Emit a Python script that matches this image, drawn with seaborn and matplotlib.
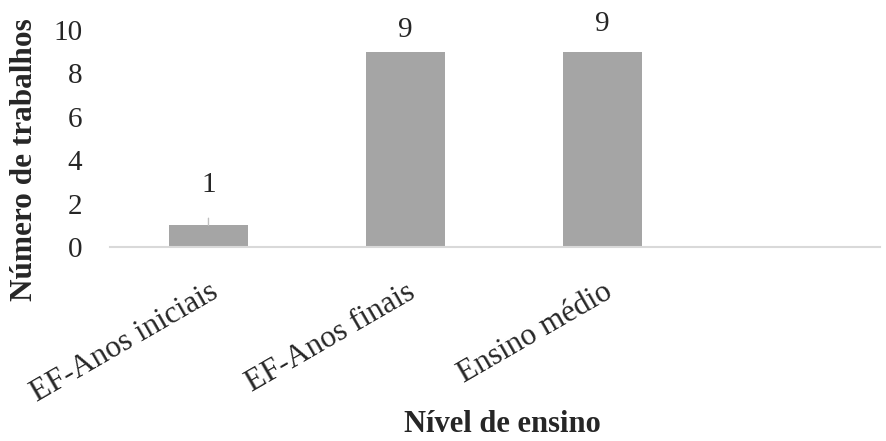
import matplotlib
matplotlib.use("Agg")
import matplotlib.pyplot as plt
import seaborn as sns
import pandas as pd

# Number of studies per school level
categories = ["EF-Anos iniciais", "EF-Anos finais", "Ensino médio"]
counts = [1, 9, 9]
y_ticks = [0, 2, 4, 6, 8, 10]

sns.set_theme(style="white")
plt.rcParams["font.family"] = ["Liberation Serif", "DejaVu Serif"]

df = pd.DataFrame({"nivel": categories, "n": counts})

fig = plt.figure(figsize=(8.86, 4.41), dpi=100)
ax = fig.add_axes([110 / 886, 1 - 247 / 441, (880 - 110) / 886, (247 - 30) / 441])

sns.barplot(data=df, x="nivel", y="n", color="#a5a5a5", saturation=1,
            width=0.4, ax=ax, edgecolor="none")

ax.set_xlim(-0.5, 3.41)
ax.set_ylim(0, 10)
ax.set_yticks(y_ticks)
ax.set_yticklabels([str(t) for t in y_ticks], fontsize=21)
ax.tick_params(axis="y", length=0, pad=20)
ax.tick_params(axis="x", length=0, pad=22)
for lbl in ax.get_xticklabels():
    lbl.set_rotation(30)
    lbl.set_ha("right")
    lbl.set_va("top")
    lbl.set_rotation_mode("anchor")
    lbl.set_fontsize(22.5)

for side in ["top", "right", "left"]:
    ax.spines[side].set_visible(False)
ax.spines["bottom"].set_color("#d9d9d9")
ax.spines["bottom"].set_linewidth(1.5)

# Value labels above the bars (the first one sits higher, with a leader line)
offsets = [40, 22, 28]
for i, v in enumerate(counts):
    if offsets[i] > 30:
        ax.annotate(str(v), xy=(i, v), xytext=(0, offsets[i]),
                    textcoords="offset pixels", ha="center", va="center",
                    fontsize=21,
                    arrowprops=dict(arrowstyle="-", color="#bfbfbf", lw=1,
                                    shrinkA=12, shrinkB=0))
    else:
        ax.annotate(str(v), xy=(i, v), xytext=(0, offsets[i]),
                    textcoords="offset pixels", ha="center", va="center",
                    fontsize=21)

ax.set_xlabel("Nível de ensino", fontsize=22, fontweight="bold")
ax.set_ylabel("Número de trabalhos", fontsize=22.5, fontweight="bold")
ax.xaxis.set_label_coords(0.51, -(425 - 247) / (247 - 30))
ax.xaxis.label.set_va("center")
ax.yaxis.set_label_coords(-(110 - 25) / (880 - 110), (247 - 160) / (247 - 30))
ax.yaxis.label.set_va("center")
ax.yaxis.label.set_ha("center")

fig.savefig("out.png", dpi=100)
